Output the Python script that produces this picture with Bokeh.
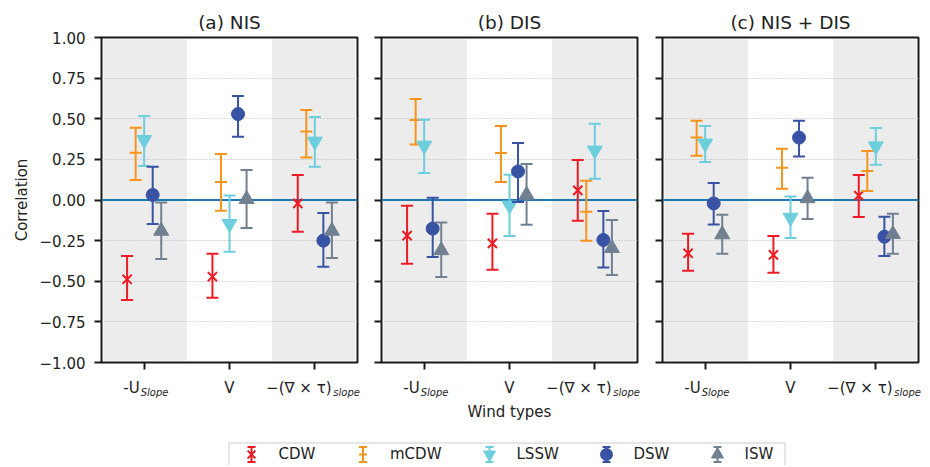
from bokeh.plotting import figure
from bokeh.models import (Range1d, FixedTicker, CustomJSTickFormatter, Span, ColumnDataSource,
                          LinearAxis)
from bokeh.layouts import row, column
from bokeh.embed import file_html
from bokeh.resources import INLINE
from bokeh.core.properties import value

# ---------------- data ----------------
categories = [0, 1, 2]
tick_main = ["-U", "V", "\u2212(\u2207 \u00d7 \u03c4)"]
tick_sub = ["Slope", "", "slope"]
series = ["CDW", "mCDW", "LSSW", "DSW", "ISW"]
panel_titles = ["(a) NIS", "(b) DIS", "(c) NIS + DIS"]
y_ticks = [-1.0, -0.75, -0.5, -0.25, 0.0, 0.25, 0.5, 0.75, 1.0]
x_label = "Wind types"
y_label = "Correlation"

# (a) NIS
nis_val = {"CDW": [-0.488, -0.472, -0.021], "mCDW": [0.291, 0.111, 0.421],
           "LSSW": [0.370, -0.147, 0.360], "DSW": [0.031, 0.529, -0.250],
           "ISW": [-0.190, 0.005, -0.190]}
nis_lo = {"CDW": [-0.615, -0.601, -0.195], "mCDW": [0.123, -0.066, 0.261],
          "LSSW": [0.209, -0.318, 0.205], "DSW": [-0.148, 0.390, -0.410],
          "ISW": [-0.363, -0.172, -0.357]}
nis_hi = {"CDW": [-0.345, -0.330, 0.154], "mCDW": [0.445, 0.283, 0.554],
          "LSSW": [0.517, 0.027, 0.511], "DSW": [0.205, 0.640, -0.080],
          "ISW": [-0.016, 0.185, -0.016]}

# (b) DIS
dis_val = {"CDW": [-0.219, -0.267, 0.059], "mCDW": [0.492, 0.289, -0.072],
           "LSSW": [0.335, -0.033, 0.305], "DSW": [-0.176, 0.176, -0.246],
           "ISW": [-0.310, 0.032, -0.296]}
dis_lo = {"CDW": [-0.392, -0.429, -0.127], "mCDW": [0.341, 0.111, -0.250],
          "LSSW": [0.166, -0.222, 0.131], "DSW": [-0.351, -0.012, -0.416],
          "ISW": [-0.474, -0.152, -0.462]}
dis_hi = {"CDW": [-0.035, -0.084, 0.246], "mCDW": [0.622, 0.455, 0.119],
          "LSSW": [0.494, 0.156, 0.470], "DSW": [0.014, 0.351, -0.068],
          "ISW": [-0.139, 0.222, -0.123]}

# (c) NIS + DIS
both_val = {"CDW": [-0.328, -0.338, 0.027], "mCDW": [0.384, 0.199, 0.178],
            "LSSW": [0.348, -0.108, 0.331], "DSW": [-0.021, 0.384, -0.226],
            "ISW": [-0.212, 0.010, -0.210]}
both_lo = {"CDW": [-0.435, -0.447, -0.105], "mCDW": [0.273, 0.070, 0.055],
           "LSSW": [0.234, -0.234, 0.217], "DSW": [-0.150, 0.267, -0.345],
           "ISW": [-0.330, -0.117, -0.330]}
both_hi = {"CDW": [-0.207, -0.222, 0.154], "mCDW": [0.488, 0.316, 0.302],
           "LSSW": [0.455, 0.021, 0.443], "DSW": [0.105, 0.488, -0.103],
           "ISW": [-0.090, 0.137, -0.084]}

shaded_categories = [0, 2]

# ---------------- style ----------------
FONT = "DejaVu Sans"
TXT = "#222222"
colors = {"CDW": "#ED1C24", "mCDW": "#F7941E", "LSSW": "#6DCEDD", "DSW": "#3953A4", "ISW": "#708090"}
markers = {"CDW": "x", "mCDW": "dash", "LSSW": "inverted_triangle", "DSW": "circle", "ISW": "triangle"}
msize = {"CDW": 13, "mCDW": 12, "LSSW": 15, "DSW": 13, "ISW": 15}
dodge = {"CDW": -0.2, "mCDW": -0.1, "LSSW": 0.0, "DSW": 0.1, "ISW": 0.2}

X_LO, X_HI, Y_LO, Y_HI = -0.5, 2.5, -1.0, 1.0
FRAME_W, FRAME_H = 256, 325
PPU_X = FRAME_W / (X_HI - X_LO)
PPU_Y = FRAME_H / (Y_HI - Y_LO)
INSET = 2.0  # px kept free along the frame so the frame line shows
# horizontal centres (px from tick) of the main text and of its subscript
main_dx = [-12.7, 0.0, -16.0]
sub_dx = [10.4, 0.0, 31.8]


def label_axis(ticks, labels, size, style, standoff):
    ax = LinearAxis(ticker=FixedTicker(ticks=ticks, minor_ticks=[]),
                    formatter=CustomJSTickFormatter(args=dict(labels=labels),
                                                    code="return labels[index];"))
    ax.axis_line_color = None
    ax.major_tick_line_color = None
    ax.major_tick_out = 0
    ax.major_tick_in = 0
    ax.major_label_standoff = standoff
    ax.major_label_text_font = FONT
    ax.major_label_text_font_size = size
    ax.major_label_text_font_style = style
    ax.major_label_text_color = TXT
    return ax


def make_panel(idx, vals, los, his):
    first = idx == 0
    last = idx == 2
    p = figure(frame_width=FRAME_W, frame_height=FRAME_H,
               x_range=Range1d(X_LO, X_HI), y_range=Range1d(Y_LO, Y_HI),
               output_backend="svg", toolbar_location=None,
               min_border_left=101 if first else (12 if idx == 1 else 13),
               min_border_right=4 if last else 12,
               min_border_top=37, min_border_bottom=71,
               background_fill_color="white", border_fill_color="white")
    p.title.text = panel_titles[idx]
    p.title.align = "center"
    p.title.text_font = FONT
    p.title.text_font_size = "18.5px"
    p.title.text_font_style = "normal"
    p.title.text_color = TXT

    p.outline_line_color = "#1a1a1a"
    p.outline_line_width = 2

    # shaded category bands (kept just inside the frame line)
    dx, dy = INSET / PPU_X, INSET / PPU_Y
    p.quad(left=[max(c - 0.5, X_LO + dx) for c in shaded_categories],
           right=[min(c + 0.5, X_HI - dx) for c in shaded_categories],
           bottom=Y_LO + dy, top=Y_HI - dy, fill_color="#ececec", line_color=None, level="image")

    # grid
    p.xgrid.visible = False
    p.ygrid.ticker = FixedTicker(ticks=y_ticks)
    p.ygrid.grid_line_color = "#b5b5b5"
    p.ygrid.grid_line_dash = "1 2"
    p.ygrid.grid_line_width = 1

    # y axis
    p.yaxis.ticker = FixedTicker(ticks=y_ticks, minor_ticks=[])
    p.yaxis.axis_line_color = None
    p.yaxis.major_tick_out = 7
    p.yaxis.major_tick_in = 0
    p.yaxis.major_tick_line_width = 2
    p.yaxis.major_tick_line_color = "#1a1a1a"
    p.yaxis.major_label_text_font = FONT
    p.yaxis.major_label_text_font_size = "15px"
    p.yaxis.major_label_text_color = TXT
    if first:
        p.yaxis.formatter = CustomJSTickFormatter(
            code="return (tick < 0 ? '\u2212' : '') + Math.abs(tick).toFixed(2);")
        p.yaxis.major_label_standoff = 9
        p.yaxis.axis_label = y_label
        p.yaxis.axis_label_text_font = FONT
        p.yaxis.axis_label_text_font_size = "15px"
        p.yaxis.axis_label_text_font_style = "normal"
        p.yaxis.axis_label_text_color = TXT
        p.yaxis.axis_label_standoff = 6
    else:
        p.yaxis.formatter = CustomJSTickFormatter(code="return '';")
        p.yaxis.major_label_standoff = 0
        p.yaxis.major_label_text_font_size = "1px"

    # x axis: tick marks only
    p.xaxis.ticker = FixedTicker(ticks=categories, minor_ticks=[])
    p.xaxis.formatter = CustomJSTickFormatter(code="return '';")
    p.xaxis.axis_line_color = None
    p.xaxis.major_tick_out = 7
    p.xaxis.major_tick_in = 0
    p.xaxis.major_tick_line_width = 2
    p.xaxis.major_tick_line_color = "#1a1a1a"
    p.xaxis.major_label_text_font_size = "1px"
    p.xaxis.major_label_standoff = 0

    # x tick labels: main text, then italic subscripts
    main_ticks = [c + d / PPU_X for c, d in zip(categories, main_dx)]
    sub_ticks = [c + d / PPU_X for c, d, s in zip(categories, sub_dx, tick_sub) if s]
    sub_labels = [s for s in tick_sub if s]
    p.add_layout(label_axis(main_ticks, tick_main, "15px", "normal", 9), "below")
    sub_ax = label_axis(sub_ticks, sub_labels, "10px", "italic", -13)
    if idx == 1:
        sub_ax.axis_label = x_label
        sub_ax.axis_label_text_font = FONT
        sub_ax.axis_label_text_font_size = "15px"
        sub_ax.axis_label_text_font_style = "normal"
        sub_ax.axis_label_text_color = TXT
        sub_ax.axis_label_standoff = 2
    p.add_layout(sub_ax, "below")

    # zero line
    p.add_layout(Span(location=0, dimension="width", line_color="#1f77b4", line_width=2.2,
                      level="underlay"))

    # error bars and markers
    for s in series:
        col = colors[s]
        src = ColumnDataSource(dict(x=[c + dodge[s] for c in categories],
                                    y=vals[s], lo=los[s], hi=his[s]))
        p.segment(x0="x", y0="lo", x1="x", y1="hi", source=src, line_color=col, line_width=2)
        p.scatter(x="x", y="lo", source=src, marker="dash", size=12, line_color=col, line_width=2)
        p.scatter(x="x", y="hi", source=src, marker="dash", size=12, line_color=col, line_width=2)
        if markers[s] in ("x", "dash"):
            p.scatter(x="x", y="y", source=src, marker=markers[s], size=msize[s],
                      line_color=col, line_width=2)
        else:
            p.scatter(x="x", y="y", source=src, marker=markers[s], size=msize[s],
                      fill_color=col, line_color=col, line_width=1)
    return p


panels = [make_panel(0, nis_val, nis_lo, nis_hi),
          make_panel(1, dis_val, dis_lo, dis_hi),
          make_panel(2, both_val, both_lo, both_hi)]

# ---------------- legend (page-pixel coordinates) ----------------
TOP = 37 + FRAME_H + 71
LEG_H = 32
W = 369 + 280 + 273
leg = figure(width=W, height=LEG_H, x_range=Range1d(0, W),
             y_range=Range1d(TOP + LEG_H, TOP),
             output_backend="svg", toolbar_location=None, min_border=0,
             x_axis_location=None, y_axis_location=None, outline_line_color=None)
leg.grid.visible = False
leg_x = [251, 362.5, 489, 606, 717]
leg_y = 454.0
leg.quad(left=228.5, right=784.5, top=442.5, bottom=485, fill_color="white",
         line_color="#cccccc", line_width=1)
for s, lx in zip(series, leg_x):
    col = colors[s]
    leg.segment(x0=lx, y0=leg_y - 7.5, x1=lx, y1=leg_y + 7.5, line_color=col, line_width=2)
    leg.scatter(x=[lx, lx], y=[leg_y - 7.5, leg_y + 7.5], marker="dash", size=8,
                line_color=col, line_width=2)
    if markers[s] in ("x", "dash"):
        leg.scatter(x=[lx], y=[leg_y], marker=markers[s], size=11 if s == "CDW" else 8,
                    line_color=col, line_width=2)
    else:
        leg.scatter(x=[lx], y=[leg_y], marker=markers[s], size=12,
                    fill_color=col, line_color=col)
leg.text(x=[lx + 27 for lx in leg_x], y=[leg_y - 0.5] * 5, text=series,
         text_font=value(FONT), text_font_size="15px", text_baseline="middle",
         text_align="left", text_color=TXT)

layout = column(row(*panels), leg)
open("out.html", "w", encoding="utf-8").write(file_html(layout, INLINE))
